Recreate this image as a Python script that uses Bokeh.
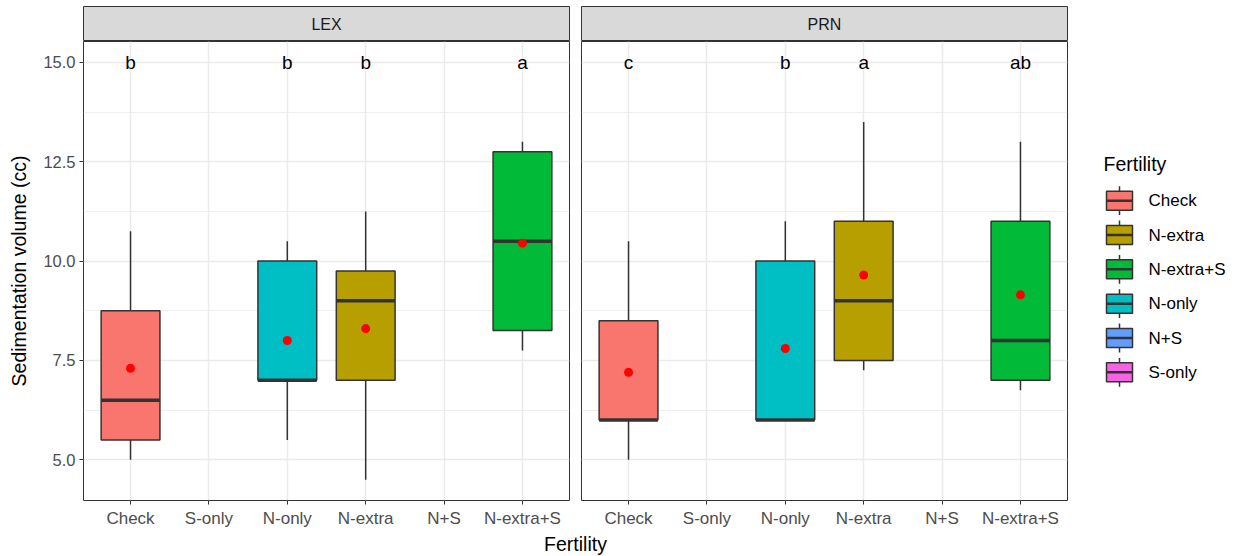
from bokeh.plotting import figure
from bokeh.models import FactorRange, Range1d, FixedTicker, ColumnDataSource
from bokeh.transform import dodge
from bokeh.layouts import row, column
from bokeh.embed import file_html
from bokeh.resources import INLINE
from bokeh.core.properties import value

# ---------------- data ----------------
fertility_levels = ["Check", "N-extra", "N-extra+S", "N-only", "N+S", "S-only"]
fertility_colors = ["#F8766D", "#B79F00", "#00BA38", "#00BFC4", "#619CFF", "#F564E3"]
x_order = ["Check", "S-only", "N-only", "N-extra", "N+S", "N-extra+S"]
panel_names = ["LEX", "PRN"]

box_fert = ["Check", "N-only", "N-extra", "N-extra+S"]

lex_lower = [5.0, 5.5, 4.5, 7.75]
lex_q1 = [5.5, 7.0, 7.0, 8.25]
lex_median = [6.5, 7.0, 9.0, 10.5]
lex_q3 = [8.75, 10.0, 9.75, 12.75]
lex_upper = [10.75, 10.5, 11.25, 13.0]
lex_mean = [7.3, 8.0, 8.3, 10.45]
lex_letters = ["b", "b", "b", "a"]

prn_lower = [5.0, 6.0, 7.25, 6.75]
prn_q1 = [6.0, 6.0, 7.5, 7.0]
prn_median = [6.0, 6.0, 9.0, 8.0]
prn_q3 = [8.5, 10.0, 11.0, 11.0]
prn_upper = [10.5, 11.0, 13.5, 13.0]
prn_mean = [7.2, 7.8, 9.65, 9.15]
prn_letters = ["c", "b", "a", "ab"]

letter_y = 15.0

y_ticks = [5.0, 7.5, 10.0, 12.5, 15.0]
y_tick_labels = ["5.0", "7.5", "10.0", "12.5", "15.0"]
y_minor = [6.25, 8.75, 11.25, 13.75]

x_label = "Fertility"
y_label = "Sedimentation volume (cc)"
legend_title = "Fertility"

# ---------------- style ----------------
FONT = "Liberation Sans"
DARK = "#333333"
GRID = "#EBEBEB"
BOX_W = 0.75

color_of = dict(zip(fertility_levels, fertility_colors))

L_BORDER = 83
GAP = 6
FRAME_W = 486
LEFT_W = L_BORDER + FRAME_W + GAP      # 575
RIGHT_W = GAP + FRAME_W + GAP          # 498
TOTAL_W = 1238
LEG_W = TOTAL_W - LEFT_W - RIGHT_W     # 165
PANEL_H = 489
STRIP_H = 41
LAB_H = 556 - PANEL_H - STRIP_H


def make_strip(name, width, bl, br):
    s = figure(width=width, height=STRIP_H, x_range=Range1d(0, 1), y_range=Range1d(0, 1),
               min_border_top=6, min_border_bottom=0, min_border_left=bl, min_border_right=br,
               x_axis_location=None, y_axis_location=None, toolbar_location=None,
               output_backend="svg", background_fill_color="#D9D9D9",
               border_fill_color="white", outline_line_color=DARK, outline_line_width=1)
    s.grid.visible = False
    s.text(x=[0.5], y=[0.5], text=[name], text_align="center", text_baseline="middle",
           text_font=value(FONT), text_font_size="16px", text_color="#1A1A1A")
    return s


def make_panel(lower, q1, med, q3, upper, mean, letters, width, bl, br, show_y):
    src = ColumnDataSource(dict(x=box_fert, lower=lower, q1=q1, median=med, q3=q3,
                                upper=upper, mean=mean, letters=letters,
                                color=[color_of[f] for f in box_fert]))
    p = figure(width=width, height=PANEL_H,
               x_range=FactorRange(*x_order, range_padding=0.1, range_padding_units="absolute"),
               y_range=Range1d(3.975, 15.525),
               min_border_top=0, min_border_bottom=27, min_border_left=bl, min_border_right=br,
               toolbar_location=None, output_backend="svg",
               background_fill_color="white", border_fill_color="white",
               outline_line_color=DARK, outline_line_width=1)
    # grids
    p.xgrid.grid_line_color = GRID
    p.xgrid.grid_line_width = 1.5
    p.ygrid.ticker = FixedTicker(ticks=y_ticks, minor_ticks=y_minor)
    p.ygrid.grid_line_color = GRID
    p.ygrid.grid_line_width = 1.5
    p.ygrid.minor_grid_line_color = GRID
    p.ygrid.minor_grid_line_width = 0.8

    # axes
    p.xaxis.axis_line_color = None
    p.xaxis.major_tick_line_color = DARK
    p.xaxis.major_tick_out = 4
    p.xaxis.major_tick_in = 0
    p.xaxis.minor_tick_line_color = None
    p.xaxis.major_label_text_font = FONT
    p.xaxis.major_label_text_font_size = "17px"
    p.xaxis.major_label_text_color = "#4D4D4D"
    p.xaxis.major_label_standoff = 4

    if show_y:
        p.yaxis.ticker = FixedTicker(ticks=y_ticks)
        p.yaxis.major_label_overrides = dict(zip(y_ticks, y_tick_labels))
        p.yaxis.axis_line_color = None
        p.yaxis.major_tick_line_color = DARK
        p.yaxis.major_tick_out = 4
        p.yaxis.major_tick_in = 0
        p.yaxis.minor_tick_line_color = None
        p.yaxis.major_label_text_font = FONT
        p.yaxis.major_label_text_font_size = "16.5px"
        p.yaxis.major_label_text_color = "#4D4D4D"
        p.yaxis.major_label_standoff = 4
        p.yaxis.axis_label = y_label
        p.yaxis.axis_label_text_font = FONT
        p.yaxis.axis_label_text_font_size = "19.5px"
        p.yaxis.axis_label_text_font_style = "normal"
        p.yaxis.axis_label_text_color = "black"
        p.yaxis.axis_label_standoff = 10
    else:
        p.yaxis.visible = False

    # whiskers
    p.segment(x0="x", y0="q3", x1="x", y1="upper", source=src, line_color=DARK, line_width=1.5)
    p.segment(x0="x", y0="q1", x1="x", y1="lower", source=src, line_color=DARK, line_width=1.5)
    # boxes
    p.vbar(x="x", width=BOX_W, bottom="q1", top="q3", source=src, fill_color="color",
           line_color=DARK, line_width=1.5)
    # medians
    p.segment(x0=dodge("x", -BOX_W / 2, range=p.x_range), y0="median",
              x1=dodge("x", BOX_W / 2, range=p.x_range), y1="median",
              source=src, line_color=DARK, line_width=3.5)
    # means
    p.scatter(x="x", y="mean", source=src, size=9, color="#FF0000", line_color=None)
    # letters
    p.text(x="x", y=letter_y, text="letters", source=src, text_align="center",
           text_baseline="middle", text_font=value(FONT), text_font_size="19px",
           text_color="black")
    return p


s1 = make_strip(panel_names[0], LEFT_W, L_BORDER, GAP)
p1 = make_panel(lex_lower, lex_q1, lex_median, lex_q3, lex_upper, lex_mean, lex_letters,
                LEFT_W, L_BORDER, GAP, True)
s2 = make_strip(panel_names[1], RIGHT_W, GAP, GAP)
p2 = make_panel(prn_lower, prn_q1, prn_median, prn_q3, prn_upper, prn_mean, prn_letters,
                RIGHT_W, GAP, GAP, False)

# ---------------- legend (its own small plot) ----------------
leg_src = ColumnDataSource(dict(level=fertility_levels, color=fertility_colors))
KEY_X = 16
LABEL_X = 45
LEG_TOP = 183
LEG_FRAME_H = 206
leg = figure(width=LEG_W, height=STRIP_H + PANEL_H,
             x_range=Range1d(0, LEG_W - 30),
             y_range=FactorRange(*reversed(fertility_levels)),
             min_border_top=LEG_TOP, min_border_bottom=STRIP_H + PANEL_H - LEG_TOP - LEG_FRAME_H,
             min_border_left=30, min_border_right=0,
             x_axis_location=None, y_axis_location=None, toolbar_location=None,
             output_backend="svg", outline_line_color=None,
             background_fill_color="white", border_fill_color="white",
             title=legend_title)
leg.grid.visible = False
leg.title.text_font = FONT
leg.title.text_font_size = "19.5px"
leg.title.text_font_style = "normal"
leg.title.text_color = "black"
leg.title.align = "left"
leg.title.offset = 0
leg.title.standoff = 17
leg.segment(x0=KEY_X, x1=KEY_X, y0=dodge("level", -0.42, range=leg.y_range),
            y1=dodge("level", 0.42, range=leg.y_range), source=leg_src,
            line_color=DARK, line_width=1.5)
leg.rect(x=KEY_X, y="level", width=26, height=19, width_units="screen", height_units="screen",
         fill_color="color", line_color=DARK, line_width=1.5, source=leg_src)
leg.segment(x0=KEY_X - 13, x1=KEY_X + 13, y0="level", y1="level", source=leg_src,
            line_color=DARK, line_width=2.5)
leg.text(x=LABEL_X, y="level", text="level", source=leg_src, text_align="left",
         text_baseline="middle", text_font=value(FONT), text_font_size="17px",
         text_color="black")

# ---------------- shared x label ----------------
lab = figure(width=TOTAL_W, height=LAB_H, x_range=Range1d(0, 1), y_range=Range1d(0, 1),
             min_border_top=0, min_border_bottom=0, min_border_left=L_BORDER,
             min_border_right=TOTAL_W - LEFT_W - GAP - FRAME_W,
             x_axis_location=None, y_axis_location=None,
             toolbar_location=None, output_backend="svg", outline_line_color=None,
             border_fill_color="white", background_fill_color="white")
lab.grid.visible = False
lab.text(x=[0.5], y=[0.5], text=[x_label], text_align="center", text_baseline="middle",
         text_font=value(FONT), text_font_size="19.5px", text_color="black")

layout = column(row(column(s1, p1), column(s2, p2), leg), lab)

open("out.html", "w").write(file_html(layout, INLINE))
